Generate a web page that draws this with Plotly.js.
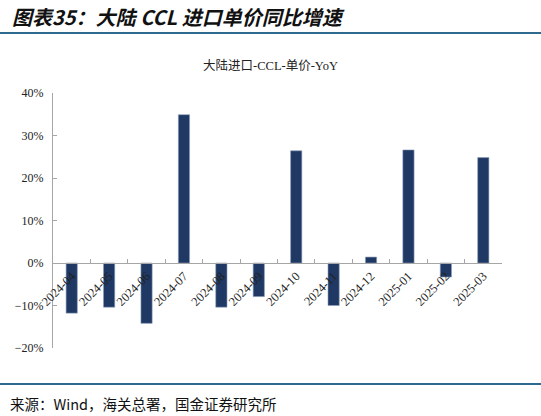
<!DOCTYPE html>
<html>
<head>
<meta charset="utf-8">
<script src="https://cdn.plot.ly/plotly-3.0.1.min.js"></script>
<style>
  html, body { margin: 0; padding: 0; background: #fff; }
  #chart { width: 541px; height: 416px; }
</style>
</head>
<body>
<div id="chart"></div>
<script>
// month labels and YoY growth (%) of CCL import unit price
var months = ["2024-04", "2024-05", "2024-06", "2024-07", "2024-08", "2024-09",
              "2024-10", "2024-11", "2024-12", "2025-01", "2025-02", "2025-03"];
var yoy = [-11.8, -10.4, -14.2, 34.9, -10.4, -7.9, 26.4, -10.0, 1.4, 26.6, -3.3, 24.8];

var serif = "'Liberation Serif', 'Noto Sans CJK SC', serif";
var cjk = "'Noto Sans CJK SC', sans-serif";

// plot area in page pixels, used to place the header/footer pieces
var plotTop = 93, plotBottom = 348;
var py = function(px) { return (plotBottom - px) / (plotBottom - plotTop); };

var data = [{
	x: months,
	y: yoy,
	type: 'bar',
	marker: {
		color: '#1F3864',
		line: { color: '#8C9DB8', width: 0.6 }
	},
	hoverinfo: 'x+y'
}];

var layout = {
	width: 541,
	height: 416,
	paper_bgcolor: '#fff',
	plot_bgcolor: '#fff',
	showlegend: false,
	bargap: 0.7,
	margin: { l: 53, r: 39, t: plotTop, b: 416 - plotBottom, pad: 0 },
	title: {
		text: '大陆进口-CCL-单价-YoY',
		font: { family: serif, size: 12.5, color: '#222' },
		x: 0.5, xanchor: 'center',
		y: 1 - 66 / 416, yanchor: 'middle'
	},
	xaxis: {
		type: 'category',
		anchor: 'free',
		position: 1 / 3,
		showline: true,
		linecolor: '#A6A6A6',
		linewidth: 1,
		ticks: 'inside',
		ticklen: 4,
		tickcolor: '#A6A6A6',
		tickson: 'boundaries',
		tickangle: -45,
		tickfont: { family: serif, size: 12.5, color: '#222' },
		showgrid: false,
		zeroline: false
	},
	yaxis: {
		range: [-20, 40],
		dtick: 10,
		ticksuffix: '%',
		showline: true,
		linecolor: '#A6A6A6',
		linewidth: 1,
		ticks: 'inside',
		ticklen: 4,
		tickcolor: '#A6A6A6',
		tickfont: { family: serif, size: 12, color: '#222' },
		showgrid: false,
		zeroline: false,
		ticklabelstandoff: 6
	},
	shapes: [
		{ type: 'line', xref: 'paper', yref: 'paper', x0: -53 / 449, x1: (541 - 53) / 449,
		  y0: py(33), y1: py(33), line: { color: '#2E6A8E', width: 2 } },
		{ type: 'line', xref: 'paper', yref: 'paper', x0: -53 / 449, x1: (541 - 53) / 449,
		  y0: py(384), y1: py(384), line: { color: '#2E6A8E', width: 2 } }
	],
	annotations: [
		{ text: '<b><i>图表35：大陆 CCL 进口单价同比增速</i></b>', xref: 'paper', yref: 'paper',
		  x: -43 / 449, y: py(17), xanchor: 'left', yanchor: 'middle', showarrow: false,
		  font: { family: cjk, size: 20, color: '#111' } },
		{ text: '来源：Wind，海关总署，国金证券研究所', xref: 'paper', yref: 'paper',
		  x: -45 / 449, y: py(403), xanchor: 'left', yanchor: 'middle', showarrow: false,
		  font: { family: cjk, size: 14.5, color: '#111' } }
	]
};

Plotly.newPlot('chart', data, layout, { displayModeBar: false, staticPlot: true });
</script>
</body>
</html>
